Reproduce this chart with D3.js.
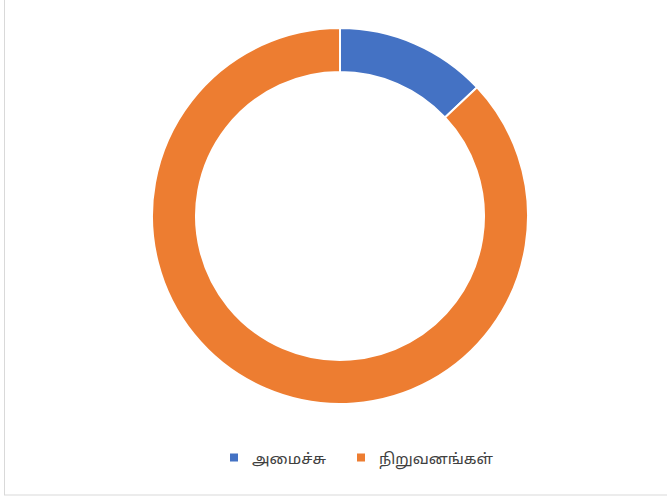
<!DOCTYPE html>
<html><head><meta charset="utf-8">
<script src="https://cdn.jsdelivr.net/npm/d3@7/dist/d3.min.js"></script>
<style>body{margin:0;background:#fff;}svg{display:block;}</style>
</head><body>
<svg id="c" width="667" height="499"></svg>
<script>
const categories = ["அமைச்சு", "நிறுவனங்கள்"];
const values = [13, 87];
const colors = ["#4472C4", "#ED7D31"];

const svg = d3.select("#c");
svg.append("rect").attr("x", 4.5).attr("y", -2).attr("width", 670).attr("height", 497)
  .attr("fill", "#fff").attr("stroke", "#d9d9d9").attr("stroke-width", 1);

const cx = 340, cy = 216, rO = 188, rI = 144;
const pie = d3.pie().sort(null).value(d => d)(values);
const arc = d3.arc().innerRadius(rI).outerRadius(rO);
const g = svg.append("g").attr("transform", `translate(${cx},${cy})`);
g.selectAll("path").data(pie).enter().append("path")
  .attr("d", arc).attr("fill", (d, i) => colors[i])
  .attr("stroke", "#fff").attr("stroke-width", 2);

const legend = svg.append("g").attr("font-family", "Noto Sans Tamil, Lohit Tamil, Latha, Noto Sans, sans-serif")
  .attr("font-size", 15).attr("fill", "#404040");
const lx = [230, 357];
const tw = [74, 114];
categories.forEach((c, i) => {
  legend.append("rect").attr("x", lx[i]).attr("y", 453.5).attr("width", 8).attr("height", 8).attr("fill", colors[i]);
  legend.append("text").attr("x", lx[i] + 22).attr("y", 463.5)
    .attr("textLength", tw[i]).attr("lengthAdjust", "spacingAndGlyphs").text(c);
});
</script>
</body></html>
